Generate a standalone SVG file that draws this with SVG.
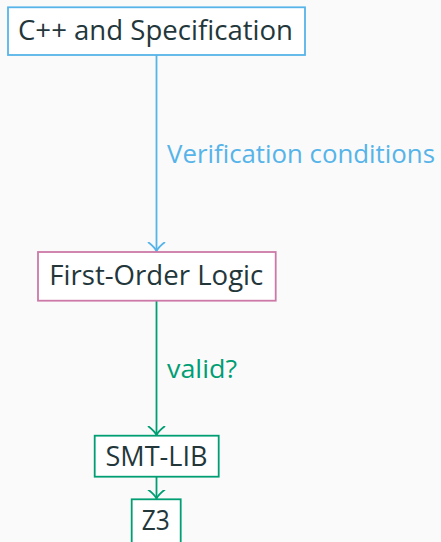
<svg xmlns="http://www.w3.org/2000/svg" width="441" height="542" viewBox="0 0 441 542">
  <defs>
    <style>
      .node rect { fill: #ffffff; stroke-width: 1.8; }
      .node text { font-family: "Open Sans", "Noto Sans", sans-serif; font-size: 26.5px; fill: #23373b; text-anchor: middle; }
      .edge { fill: none; stroke-width: 1.8; }
      .lbl { font-family: "Open Sans", "Noto Sans", sans-serif; font-size: 25.5px; }
      .blue { stroke: #56b4e9; }
      .pink { stroke: #cc79a7; }
      .green { stroke: #009e73; }
    </style>
    <!-- open curved "to"-style arrow tips -->
    <marker id="arrow-blue" viewBox="-10 -9 20 10" refX="0" refY="0" markerWidth="20" markerHeight="10" markerUnits="userSpaceOnUse" orient="0">
      <path d="M-8.5,-9 Q-2,-4 0,0 Q2,-4 8.5,-9" fill="none" stroke="#56b4e9" stroke-width="1.8"/>
    </marker>
    <marker id="arrow-green" viewBox="-10 -9 20 10" refX="0" refY="0" markerWidth="20" markerHeight="10" markerUnits="userSpaceOnUse" orient="0">
      <path d="M-8.5,-9 Q-2,-4 0,0 Q2,-4 8.5,-9" fill="none" stroke="#009e73" stroke-width="1.8"/>
    </marker>
  </defs>

  <rect x="0" y="0" width="441" height="542" fill="#fafafa"/>

  <g id="connectors">
    <line class="edge blue" x1="156.5" y1="55" x2="156.5" y2="251" marker-end="url(#arrow-blue)"/>
    <text class="lbl" x="167" y="163" fill="#56b4e9" textLength="268" lengthAdjust="spacingAndGlyphs">Verification conditions</text>
    <line class="edge green" x1="156.5" y1="301" x2="156.5" y2="435" marker-end="url(#arrow-green)"/>
    <text class="lbl" x="167" y="378" fill="#009e73" textLength="70" lengthAdjust="spacingAndGlyphs">valid?</text>
    <line class="edge green" x1="156.5" y1="477" x2="156.5" y2="498.5" marker-end="url(#arrow-green)"/>
  </g>

  <g id="node-cpp" class="node">
    <rect class="blue" x="8" y="7.3" width="297" height="47.7"/>
    <text x="155.5" y="40" textLength="275" lengthAdjust="spacingAndGlyphs">C++ and Specification</text>
  </g>

  <g id="node-fol" class="node">
    <rect class="pink" x="38" y="252" width="237.7" height="48.7"/>
    <text x="156.3" y="284.5" textLength="214" lengthAdjust="spacingAndGlyphs">First-Order Logic</text>
  </g>

  <g id="node-smtlib" class="node">
    <rect class="green" x="94.7" y="435.7" width="124" height="41"/>
    <text x="156.5" y="466" textLength="102" lengthAdjust="spacingAndGlyphs">SMT-LIB</text>
  </g>

  <g id="node-z3" class="node">
    <rect class="green" x="131.7" y="499.3" width="49" height="50"/>
    <text x="155.8" y="530" textLength="28" lengthAdjust="spacingAndGlyphs">Z3</text>
  </g>
</svg>
